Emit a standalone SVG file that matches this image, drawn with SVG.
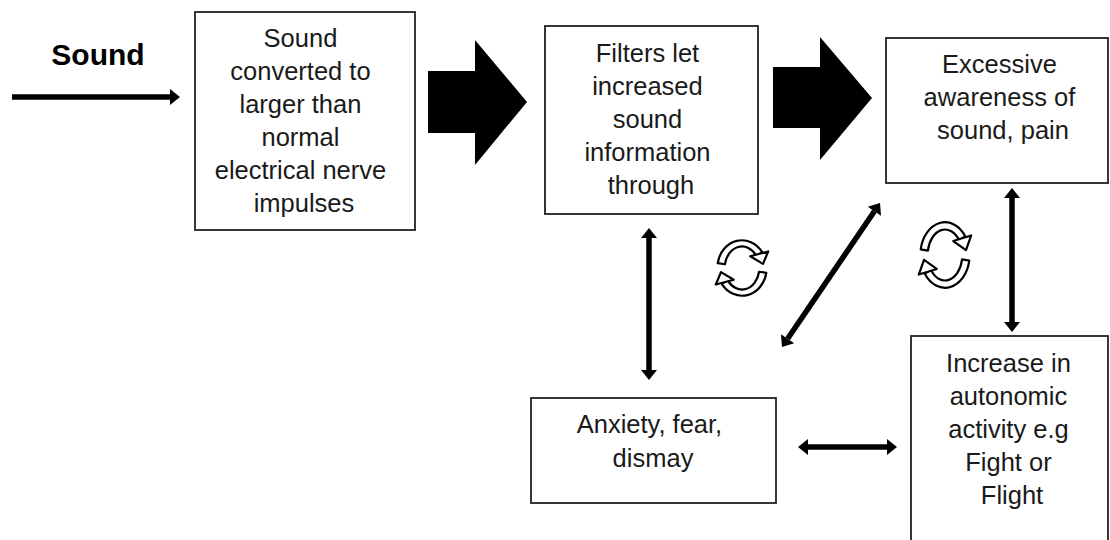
<svg xmlns="http://www.w3.org/2000/svg" xmlns:xlink="http://www.w3.org/1999/xlink" width="1110" height="540" viewBox="0 0 1110 540">
  <style>
    .box { fill: #fff; stroke: #222; stroke-width: 1.8; }
    .t { font-family: "Liberation Sans", Arial, sans-serif; font-size: 25.5px; fill: #1a1a1a; text-anchor: middle; }
    .lbl { font-family: "Liberation Sans", Arial, sans-serif; font-size: 30px; font-weight: bold; fill: #000; text-anchor: middle; }
    .conn { stroke: #000; stroke-width: 5.5; fill: none; }
    .block { fill: #000; }
    .cyc { fill: #fff; stroke: #000; stroke-width: 2.2; stroke-linejoin: round; }
  </style>
  <defs>
    <marker id="head" markerUnits="userSpaceOnUse" markerWidth="12" markerHeight="18" refX="0" refY="8" orient="auto-start-reverse" overflow="visible">
      <path d="M0,0 L10,8 L0,16 Z" fill="#000"/>
    </marker>
    <g id="half">
      <path class="cyc" vector-effect="non-scaling-stroke" d="M -23.14 -5.47 A 23.5 31.5 0 0 1 19.25 -18.07 L 13.52 -14.05 A 16.5 24.5 0 0 0 -16.25 -4.25 Z"/>
      <path class="cyc" vector-effect="non-scaling-stroke" d="M 24.95 -18.8 L 20.0 -4.7 L 7.85 -13.4 Z"/>
    </g>
    <g id="cycle">
      <use xlink:href="#half" href="#half"/>
      <use xlink:href="#half" href="#half" transform="rotate(180)"/>
    </g>
  </defs>

  <g id="connectors">
    <line class="conn" x1="12" y1="97" x2="170" y2="97" marker-end="url(#head)"/>
    <path class="block" d="M428,71 L475,71 L475,40 L527,102 L475,165 L475,133 L428,133 Z"/>
    <path class="block" d="M773,67 L820,67 L820,37 L872,98 L820,160 L820,128 L773,128 Z"/>
    <line class="conn" x1="649" y1="238" x2="649" y2="370" marker-start="url(#head)" marker-end="url(#head)"/>
    <line class="conn" x1="787.6" y1="338.7" x2="874.4" y2="211.3" marker-start="url(#head)" marker-end="url(#head)"/>
    <line class="conn" x1="1012" y1="198" x2="1012" y2="322" marker-start="url(#head)" marker-end="url(#head)"/>
    <line class="conn" x1="808" y1="447" x2="887" y2="447" marker-start="url(#head)" marker-end="url(#head)"/>
    <use id="cycle1" xlink:href="#cycle" href="#cycle" transform="translate(742,268) scale(1.05,0.88)"/>
    <use id="cycle2" xlink:href="#cycle" href="#cycle" transform="translate(945,255) scale(1.05,1.04)"/>
  </g>

  <g id="label-sound">
    <text class="lbl" x="98" y="65">Sound</text>
  </g>

  <g id="node-converted">
    <rect class="box" x="195" y="12" width="220" height="218"/>
    <text class="t">
      <tspan x="304" y="47">Sound</tspan>
      <tspan x="304" y="80">converted to</tspan>
      <tspan x="304" y="113">larger than</tspan>
      <tspan x="304" y="146">normal</tspan>
      <tspan x="304" y="179">electrical nerve</tspan>
      <tspan x="304" y="212">impulses</tspan>
    </text>
  </g>

  <g id="node-filters">
    <rect class="box" x="545" y="26" width="213" height="188"/>
    <text class="t">
      <tspan x="651" y="62">Filters let</tspan>
      <tspan x="651" y="95">increased</tspan>
      <tspan x="651" y="128">sound</tspan>
      <tspan x="651" y="161">information</tspan>
      <tspan x="651" y="194">through</tspan>
    </text>
  </g>

  <g id="node-awareness">
    <rect class="box" x="886" y="38" width="222" height="145"/>
    <text class="t">
      <tspan x="1003" y="73">Excessive</tspan>
      <tspan x="1003" y="106">awareness of</tspan>
      <tspan x="1003" y="139">sound, pain</tspan>
    </text>
  </g>

  <g id="node-anxiety">
    <rect class="box" x="531" y="398" width="245" height="105"/>
    <text class="t">
      <tspan x="653" y="433">Anxiety, fear,</tspan>
      <tspan x="653" y="467">dismay</tspan>
    </text>
  </g>

  <g id="node-autonomic">
    <rect class="box" x="911" y="336" width="197" height="215"/>
    <text class="t">
      <tspan x="1012" y="372">Increase in</tspan>
      <tspan x="1012" y="405">autonomic</tspan>
      <tspan x="1012" y="438">activity e.g</tspan>
      <tspan x="1012" y="471">Fight or</tspan>
      <tspan x="1012" y="504">Flight</tspan>
    </text>
  </g>
</svg>
